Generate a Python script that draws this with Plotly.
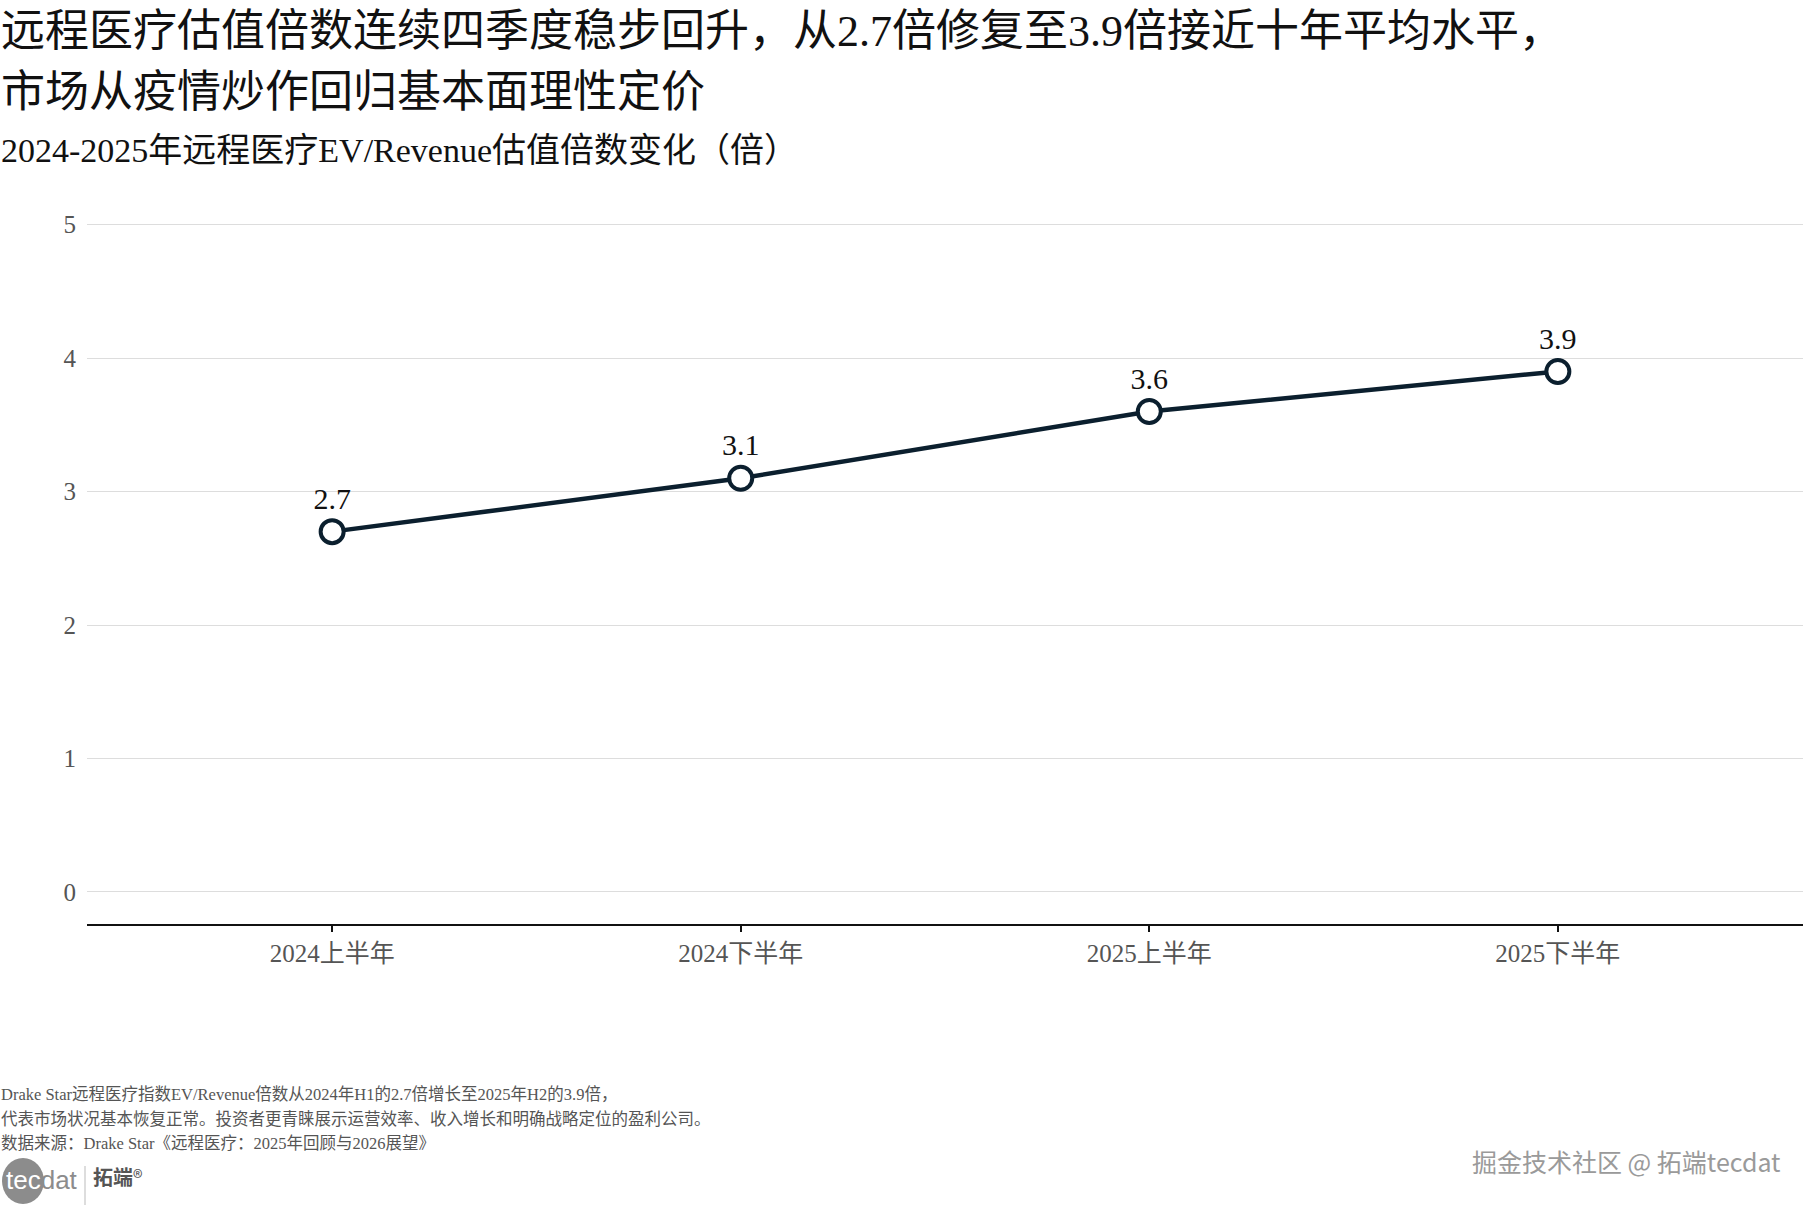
import plotly.graph_objects as go

categories = ["2024上半年", "2024下半年", "2025上半年", "2025下半年"]
values = [2.7, 3.1, 3.6, 3.9]
y_ticks = [0, 1, 2, 3, 4, 5]

title_1 = "远程医疗估值倍数连续四季度稳步回升，从2.7倍修复至3.9倍接近十年平均水平，"
title_2 = "市场从疫情炒作回归基本面理性定价"
subtitle = "2024-2025年远程医疗EV/Revenue估值倍数变化（倍）"
notes = [
    "Drake Star远程医疗指数EV/Revenue倍数从2024年H1的2.7倍增长至2025年H2的3.9倍，",
    "代表市场状况基本恢复正常。投资者更青睐展示运营效率、收入增长和明确战略定位的盈利公司。",
    "数据来源：Drake Star《远程医疗：2025年回顾与2026展望》",
]
watermark = "掘金技术社区 @ 拓端tecdat"

FONT = "Liberation Serif, Noto Sans CJK SC, serif"
LOGO_FONT = "Liberation Sans, Noto Sans CJK SC, sans-serif"
W, H = 1814, 1209
L, R, T, B = 87, 11, 198, 285
PW, PH = W - L - R, H - T - B

def px(x):
    return (x - L) / PW

def py(y):
    return (H - B - y) / PH

fig = go.Figure()
fig.add_trace(go.Scatter(
    x=categories, y=values, mode="lines+markers+text",
    text=[f"{v:.1f}" for v in values], textposition="top center",
    textfont=dict(family=FONT, size=30, color="#111111"),
    line=dict(color="#0b1f2e", width=4.5),
    marker=dict(size=23, color="white", line=dict(color="#0b1f2e", width=4)),
    cliponaxis=False, showlegend=False, hoverinfo="skip",
))

fig.update_layout(
    width=W, height=H,
    margin=dict(l=L, r=R, t=T, b=B),
    plot_bgcolor="white", paper_bgcolor="white",
    font=dict(family=FONT),
    xaxis=dict(
        type="category", range=[-0.6, 3.6], showgrid=False,
        showline=True, linecolor="#111111", linewidth=2,
        ticks="outside", ticklen=6, tickwidth=2, tickcolor="#111111",
        tickfont=dict(family=FONT, size=25, color="#555555"),
        zeroline=False,
    ),
    yaxis=dict(
        range=[-0.24, 5.2], tickvals=y_ticks, showgrid=True,
        gridcolor="#dddddd", gridwidth=1, zeroline=False, showline=False,
        ticks="", ticklabelstandoff=10,
        tickfont=dict(family=FONT, size=25, color="#555555"),
    ),
)

anns = [
    dict(text=title_1, x=px(0), y=py(31), size=44, color="#111111"),
    dict(text=title_2, x=px(0), y=py(93), size=44, color="#111111"),
    dict(text=subtitle, x=px(0), y=py(151), size=34, color="#111111"),
    dict(text=notes[0], x=px(0), y=py(1094), size=16.5, color="#555555"),
    dict(text=notes[1], x=px(0), y=py(1119), size=16.5, color="#555555"),
    dict(text=notes[2], x=px(0), y=py(1143), size=16.5, color="#555555"),
]
for a in anns:
    fig.add_annotation(
        text=a["text"], x=a["x"], y=a["y"], xref="paper", yref="paper",
        xanchor="left", yanchor="middle", showarrow=False, borderpad=0,
        font=dict(family=FONT, size=a["size"], color=a["color"]),
    )

# watermark
fig.add_annotation(
    text=watermark, x=px(1782), y=py(1161), xref="paper", yref="paper",
    xanchor="right", yanchor="middle", showarrow=False, borderpad=0,
    font=dict(family="Noto Sans CJK SC", size=25, color="#9a9a9a"),
)

# logo
fig.add_shape(type="circle", xref="paper", yref="paper",
              x0=px(2), x1=px(44), y0=py(1204), y1=py(1158),
              fillcolor="#8c8c8c", line=dict(width=0), layer="below")
fig.add_annotation(
    text="<span style='color:white'>tec</span><span style='color:#8c8c8c'>dat</span>",
    x=px(5), y=py(1180), xref="paper", yref="paper",
    xanchor="left", yanchor="middle", showarrow=False, borderpad=0,
    font=dict(family=LOGO_FONT, size=26, color="#8c8c8c"))
fig.add_shape(type="line", xref="paper", yref="paper",
              x0=px(85), x1=px(85), y0=py(1166), y1=py(1205),
              line=dict(color="#bbbbbb", width=1))
fig.add_annotation(text="<b>拓端</b>®", x=px(92), y=py(1176), xref="paper", yref="paper",
                   xanchor="left", yanchor="middle", showarrow=False, borderpad=0,
                   font=dict(family="Noto Sans CJK SC", size=20, color="#555555"))

fig.write_html("out.html", config={"displayModeBar": False},
               post_script="document.body.style.margin='0';")
